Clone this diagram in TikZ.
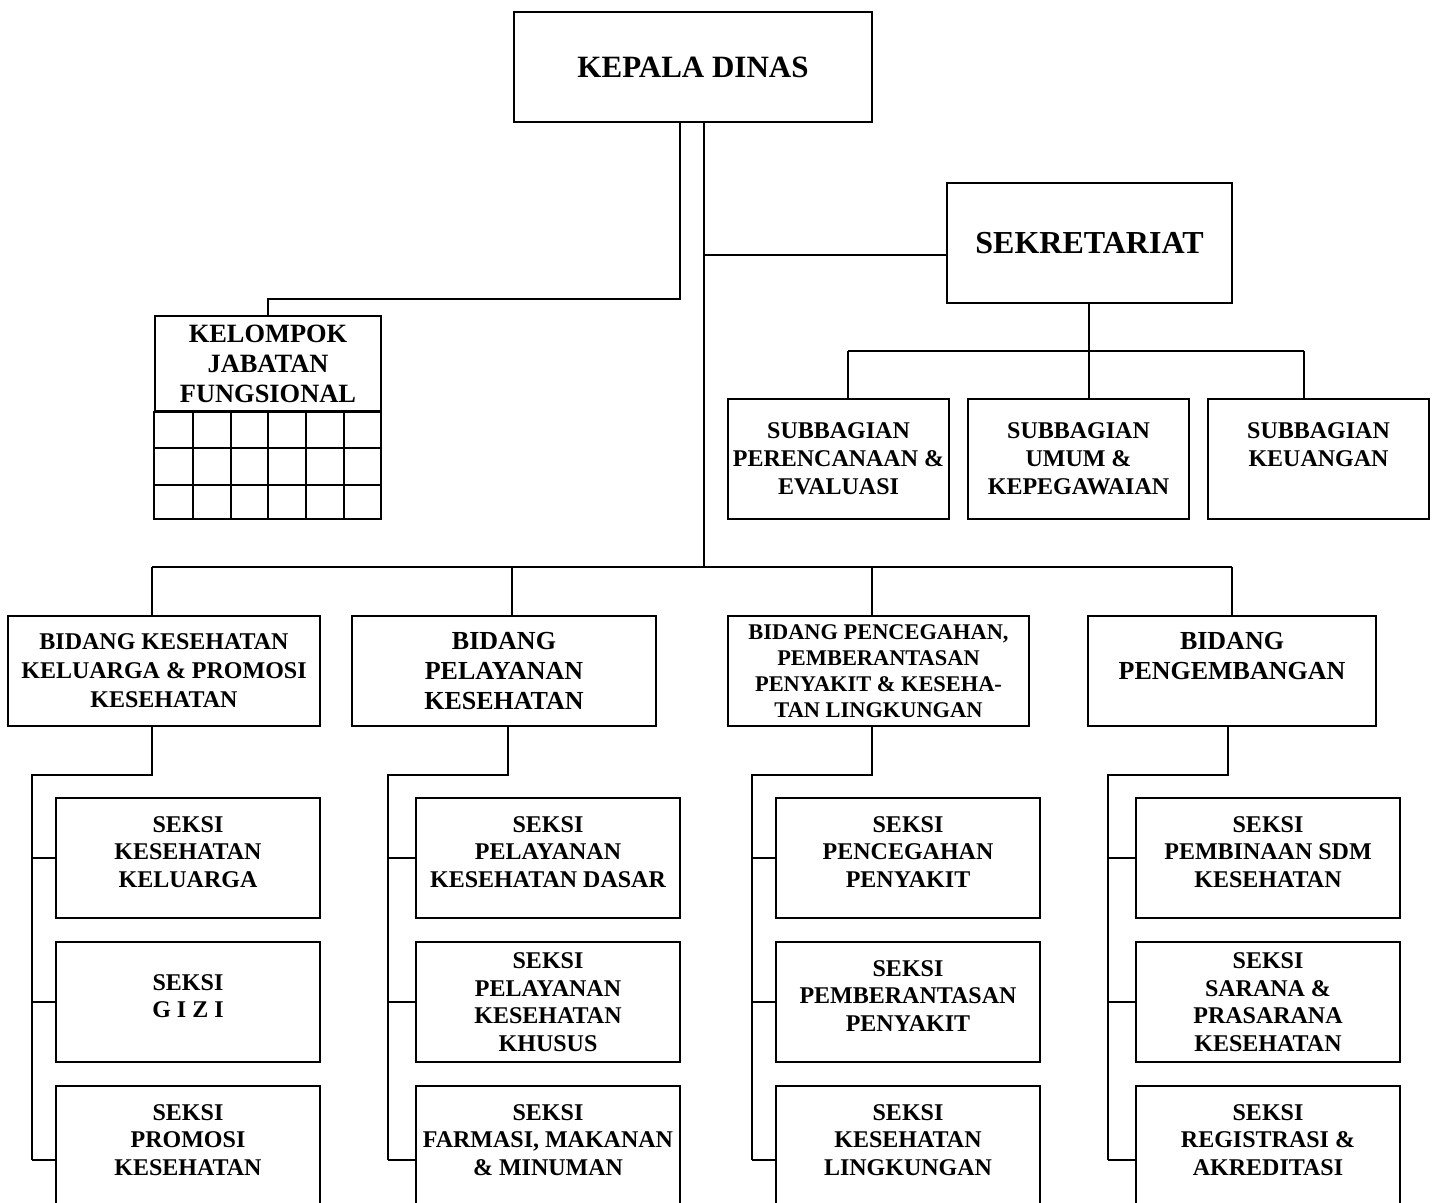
\documentclass[tikz,border=0pt]{standalone}
\usepackage{fontspec}
\setmainfont{Liberation Serif}
\usetikzlibrary{positioning,calc}

\begin{document}
\begin{tikzpicture}[x=0.5pt,y=-0.5pt,line width=1pt,
 box/.style={draw,line width=1pt,align=center,inner sep=0pt,font=\bfseries\fontsize{12}{13.75}\selectfont},
 seksi/.style={box,minimum width=132pt,minimum height=60pt,text depth=6pt},
 subbag/.style={box,minimum width=110.5pt,minimum height=60pt,font=\bfseries\fontsize{12}{14}\selectfont},
 bidang/.style={box,minimum height=55pt,font=\bfseries\fontsize{13}{15}\selectfont}]
\useasboundingbox (0,0) rectangle (1436,1203);
% top level
\node[box,minimum width=179pt,minimum height=55pt,font=\bfseries\fontsize{15.5}{18}\selectfont] (kd) at (693,67) {KEPALA DINAS};
\node[box,minimum width=142.5pt,minimum height=60pt,font=\bfseries\fontsize{16}{18}\selectfont] (sek) at (1089.5,243) {SEKRETARIAT};
\node[box,minimum width=113pt,minimum height=47.5pt,font=\bfseries\fontsize{13.2}{15}\selectfont] (kjf) at (268,363.5) {KELOMPOK\\JABATAN\\FUNGSIONAL};
\draw (kjf.south west) rectangle (381,519);
\foreach \y in {448,485} \draw (155,\y) -- (381,\y);
\foreach \x in {193,231,268,306,344} \draw (\x,411) -- (\x,519);
% subbagian
\node[subbag] (sb1) at (838.5,459) {SUBBAGIAN\\PERENCANAAN \&\\EVALUASI};
\node[subbag] (sb2) at (1078.5,459) {SUBBAGIAN\\UMUM \&\\KEPEGAWAIAN};
\node[subbag] (sb3) at (1318.5,459) {SUBBAGIAN\\KEUANGAN\\\mbox{}};
% bidang
\node[bidang,minimum width=156pt,font=\bfseries\fontsize{12}{14.5}\selectfont] (b1) at (164,671) {BIDANG KESEHATAN\\KELUARGA \& PROMOSI\\KESEHATAN};
\node[bidang,minimum width=152pt] (b2) at (504,671) {BIDANG\\PELAYANAN\\KESEHATAN};
\node[bidang,minimum width=150.5pt,font=\bfseries\fontsize{11.2}{13}\selectfont] (b3) at (878.5,671) {BIDANG PENCEGAHAN,\\PEMBERANTASAN\\PENYAKIT \& KESEHA-\\TAN LINGKUNGAN};
\node[bidang,minimum width=144pt] (b4) at (1232,671) {BIDANG\\PENGEMBANGAN\\\mbox{}};
% seksi
\node[seksi] (s11) at (188,858) {SEKSI\\KESEHATAN\\KELUARGA};
\node[seksi] (s12) at (188,1002) {SEKSI\\G I Z I};
\node[seksi] (s13) at (188,1146) {SEKSI\\PROMOSI\\KESEHATAN};
\node[seksi] (s21) at (548,858) {SEKSI\\PELAYANAN\\KESEHATAN DASAR};
\node[seksi,text depth=0pt] (s22) at (548,1002) {SEKSI\\PELAYANAN\\KESEHATAN\\KHUSUS};
\node[seksi] (s23) at (548,1146) {SEKSI\\FARMASI, MAKANAN\\\& MINUMAN};
\node[seksi] (s31) at (908,858) {SEKSI\\PENCEGAHAN\\PENYAKIT};
\node[seksi] (s32) at (908,1002) {SEKSI\\PEMBERANTASAN\\PENYAKIT};
\node[seksi] (s33) at (908,1146) {SEKSI\\KESEHATAN\\LINGKUNGAN};
\node[seksi] (s41) at (1268,858) {SEKSI\\PEMBINAAN SDM\\KESEHATAN};
\node[seksi,text depth=0pt] (s42) at (1268,1002) {SEKSI\\SARANA \&\\PRASARANA\\KESEHATAN};
\node[seksi] (s43) at (1268,1146) {SEKSI\\REGISTRASI \&\\AKREDITASI};
% connectors
\coordinate (kl) at (680,122);
\coordinate (kr) at (704,122);
\coordinate (bus) at (704,567);
\draw (kl) -- ++(0,177) -| (kjf.north);
\draw (kr) -- (bus);
\draw (sek.west |- 0,255) -- (bus |- 0,255);
\coordinate (sbus) at (1089,351);
\draw (sek.south -| sbus) -- (sbus);
\coordinate (p1) at (848,351);
\coordinate (p2) at (1089,351);
\coordinate (p3) at (1304,351);
\draw (p1) -- (p3);
\foreach \i in {1,2,3} \draw (p\i) -- (p\i |- sb\i.north);
\coordinate (d1) at (152,567);
\coordinate (d2) at (512,567);
\coordinate (d3) at (872,567);
\coordinate (d4) at (1232,567);
\draw (d1) -- (d4);
\foreach \i in {1,...,4} \draw (d\i) -- (d\i |- b\i.north);
\foreach \i/\sx/\vx in {1/152/32,2/508/388,3/872/752,4/1228/1108}{
 \coordinate (t\i) at (\sx,775);
 \coordinate (v\i) at (\vx,1160);
 \draw (b\i.south -| t\i) -- (t\i) -| (v\i);
 \draw (v\i |- s\i1.west) -- (s\i1.west);
 \draw (v\i |- s\i2.west) -- (s\i2.west);
 \draw (v\i) -- (v\i -| s\i3.west);
}
\end{tikzpicture}
\end{document}
